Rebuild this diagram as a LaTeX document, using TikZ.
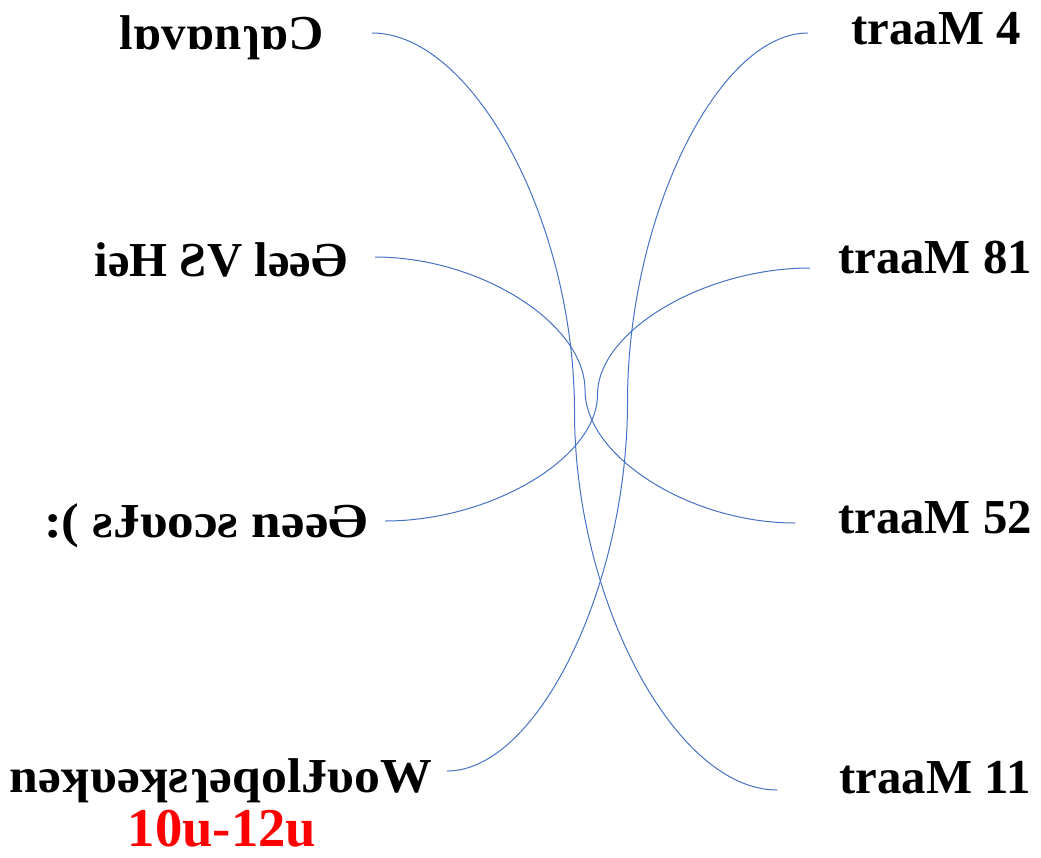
\documentclass[tikz,border=0pt]{standalone}
\usepackage{fontspec}
\setmainfont{Liberation Serif}
\newfontfamily\mirfont{Liberation Serif}
\newfontfamily\mirwideA[FakeStretch=1.09]{Liberation Serif}
\newfontfamily\mirwideB[FakeStretch=1.06]{Liberation Serif}
\definecolor{connblue}{HTML}{4472C4}
\definecolor{timered}{HTML}{FF0000}
\begin{document}
\begin{tikzpicture}[x=0.75pt,y=-0.75pt,
  lbl/.style={font=\fontsize{36.6}{40}\selectfont\bfseries, inner sep=0pt, anchor=base},
  mir/.style={lbl, font=\fontsize{36.6}{40}\selectfont\bfseries\mirfont},
  conn/.style={draw=connblue, line width=0.75pt}]
\useasboundingbox (0,0) rectangle (1041,857);
% left labels
\node[mir] (carn) at (222,49) {lɒvɒnɿɒƆ};
\node[mir] (geel) at (221,276) {iəH ƧV ləəӘ};
\node[mir, font=\fontsize{36.6}{40}\selectfont\bfseries\mirwideA] (geen) at (206,537) {:( ƨɈυoɔƨ nəəӘ};
\node[mir, font=\fontsize{36.6}{40}\selectfont\bfseries\mirwideB] (wouf) at (221,792) {nəʞυəʞƨɿəqolɈυoW};
\node[lbl, text=timered, font=\fontsize{41}{44}\selectfont\bfseries] (time) at (222,846) {10u-12u};
% right labels
\node[lbl] (m4) at (936,44) {traaM 4};
\node[lbl] (m18) at (935,273) {traaM 81};
\node[lbl] (m25) at (935,533) {traaM 52};
\node[lbl] (m11) at (935,793) {traaM 11};
% connector ends
\coordinate (carnE) at (372,33);
\coordinate (geelE) at (375,257);
\coordinate (geenE) at (385,521);
\coordinate (woufE) at (447,771);
\coordinate (m4E) at (808,33);
\coordinate (m18E) at (810,268);
\coordinate (m25E) at (795,523);
\coordinate (m11E) at (777,790);
% connectors
\draw[conn] (carnE) .. controls (473.25,33) and (574.5,222.25) .. (574.5,411.5)
  .. controls (574.5,600.75) and (675.75,790) .. (m11E);
\draw[conn] (geelE) .. controls (480,257) and (585,323.5) .. (585,390)
  .. controls (585,456.5) and (690,523) .. (m25E);
\draw[conn] (geenE) .. controls (491.25,521) and (597.5,457.75) .. (597.5,394.5)
  .. controls (597.5,331.25) and (703.75,268) .. (m18E);
\draw[conn] (woufE) .. controls (537.25,771) and (627.5,586.5) .. (627.5,402)
  .. controls (627.5,217.5) and (717.75,33) .. (m4E);
\end{tikzpicture}
\end{document}
